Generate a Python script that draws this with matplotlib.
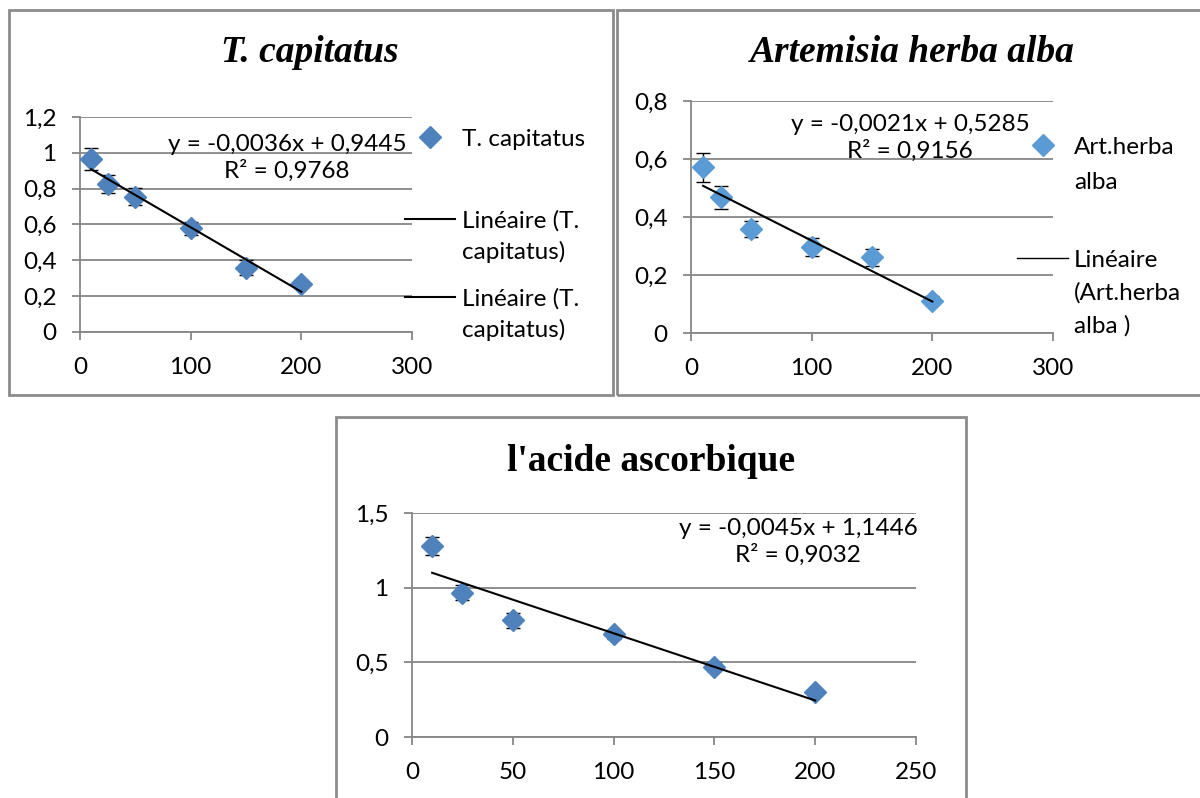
import numpy as np
import matplotlib
matplotlib.use('Agg')
import matplotlib.pyplot as plt
from matplotlib.lines import Line2D
from matplotlib.legend import Legend
from matplotlib.patches import Rectangle
from matplotlib.ticker import FuncFormatter, MultipleLocator

plt.rcParams['font.family'] = ['Lato', 'DejaVu Sans']

# concentrations (x) shared by the three panels
conc = [10, 25, 50, 100, 150, 200]

# T. capitatus
tc_y = [0.965, 0.825, 0.755, 0.578, 0.360, 0.270]
tc_err = [0.06, 0.05, 0.048, 0.035, 0.04, 0.02]
tc_fit = (-0.0036, 0.9445)
tc_r2 = 0.9768

# Artemisia herba alba
ah_y = [0.571, 0.468, 0.359, 0.296, 0.261, 0.112]
ah_err = [0.05, 0.04, 0.028, 0.03, 0.03, 0.015]
ah_fit = (-0.0021, 0.5285)
ah_r2 = 0.9156

# l'acide ascorbique
aa_y = [1.282, 0.966, 0.783, 0.688, 0.472, 0.298]
aa_err = [0.06, 0.05, 0.05, 0.03, 0.03, 0.02]
aa_fit = (-0.0045, 1.1446)
aa_r2 = 0.9032

W, H = 1200, 798
BLUE = '#4F81BD'
LIGHT_BLUE = '#5B9BD5'
GRAY = '#868686'
FS = 17.5

fig = plt.figure(figsize=(W / 100, H / 100), dpi=100)


def px(x, y):
    return x / W, 1 - y / H


def make_axes(left, top, right, bottom):
    ax = fig.add_axes([left / W, 1 - bottom / H, (right - left) / W, (bottom - top) / H])
    return ax


def fmt(v, pos):
    return ('%g' % round(v, 3)).replace('.', ',')


def style(ax, xmax, xstep, ymax, ystep):
    ax.set_xlim(0, xmax)
    ax.set_ylim(0, ymax)
    ax.xaxis.set_major_locator(MultipleLocator(xstep))
    ax.yaxis.set_major_locator(MultipleLocator(ystep))
    ax.xaxis.set_major_formatter(FuncFormatter(fmt))
    ax.yaxis.set_major_formatter(FuncFormatter(fmt))
    for s in ['top', 'right']:
        ax.spines[s].set_visible(False)
    for s in ['left', 'bottom']:
        ax.spines[s].set_color(GRAY)
        ax.spines[s].set_linewidth(1.3)
    ax.grid(axis='y', color=GRAY, linewidth=1.3)
    ax.set_axisbelow(True)
    ax.tick_params(length=6, width=1.3, color=GRAY, labelsize=FS)
    ax.tick_params(axis='x', pad=12)
    ax.tick_params(axis='y', pad=11)
    ax.set_facecolor('none')


def plot_series(ax, y, err, fit, color):
    x = np.array(conc)
    ax.errorbar(x, y, yerr=err, fmt='none', ecolor='black', elinewidth=1,
                capsize=5, capthick=1, zorder=3)
    ax.plot(x, y, linestyle='none', marker='D', markersize=11,
            color=color, zorder=4, clip_on=False)
    xf = np.array([conc[0], conc[-1]])
    ax.plot(xf, fit[0] * xf + fit[1], color='black', linewidth=1.5, zorder=5)


def eq_text(cx, cy, fit, r2):
    s = 'y = %sx + %s\nR² = %s' % (('%.4f' % fit[0]).replace('.', ','),
                                  ('%.4f' % fit[1]).replace('.', ','),
                                  ('%.4f' % r2).replace('.', ','))
    fig.text(*px(cx, cy), s, ha='center', va='center', fontsize=FS,
             linespacing=1.3, multialignment='center')


def legend_lines(ax, handle, lines, x, ys, hlen, pad):
    blank = Line2D([], [], color='none')
    for i, (t, y) in enumerate(zip(lines, ys)):
        leg = Legend(ax, [handle if i == 0 else blank], [t],
                     loc='center left', bbox_to_anchor=px(x, y),
                     bbox_transform=fig.transFigure, frameon=False,
                     borderpad=0, borderaxespad=0, handlelength=hlen,
                     handletextpad=pad, fontsize=FS)
        ax.add_artist(leg)


# panel frames
for (l, t, r, b) in [(9, 10, 613, 395), (617, 10, 1212, 395), (336, 417, 966, 812)]:
    fig.patches.append(Rectangle(px(l, b), (r - l) / W, (b - t) / H,
                                 transform=fig.transFigure, fill=False,
                                 edgecolor='#8c8c8c', linewidth=2))

# T. capitatus
ax1 = make_axes(80, 117, 412, 332)
style(ax1, 300, 100, 1.2, 0.2)
plot_series(ax1, tc_y, tc_err, tc_fit, BLUE)
fig.text(*px(310, 53), 'T. capitatus', ha='center', va='center', fontsize=27,
         family='Liberation Serif', weight='bold', style='italic')
eq_text(287, 158, tc_fit, tc_r2)
mk1 = Line2D([], [], linestyle='none', marker='D', markersize=11, color=BLUE)
ln = Line2D([], [], color='black', linewidth=1.5)
legend_lines(ax1, mk1, ['T. capitatus'], 405, [139], 2.05, 0.3)
legend_lines(ax1, ln, ['Linéaire (T.', 'capitatus)'], 405, [221, 252], 2.05, 0.3)
legend_lines(ax1, ln, ['Linéaire (T.', 'capitatus)'], 405, [299, 330], 2.05, 0.3)

# Artemisia herba alba
ax2 = make_axes(691, 101, 1053, 333)
style(ax2, 300, 100, 0.8, 0.2)
plot_series(ax2, ah_y, ah_err, ah_fit, LIGHT_BLUE)
fig.text(*px(912, 53), 'Artemisia herba alba', ha='center', va='center', fontsize=27,
         family='Liberation Serif', weight='bold', style='italic')
eq_text(910, 138, ah_fit, ah_r2)
mk2 = Line2D([], [], linestyle='none', marker='D', markersize=11, color=LIGHT_BLUE)
ln2 = Line2D([], [], color='black', linewidth=1)
legend_lines(ax2, mk2, ['Art.herba', 'alba'], 1017, [147, 182], 2.1, 0.25)
legend_lines(ax2, ln2, ['Linéaire', '(Art.herba', 'alba )'], 1017, [260, 293, 326], 2.1, 0.25)

# l'acide ascorbique
ax3 = make_axes(412, 513, 916, 737)
style(ax3, 250, 50, 1.5, 0.5)
plot_series(ax3, aa_y, aa_err, aa_fit, BLUE)
fig.text(*px(651, 461), "l'acide ascorbique", ha='center', va='center', fontsize=27,
         family='Liberation Serif', weight='bold')
eq_text(798, 542, aa_fit, aa_r2)

fig.savefig('out.png', dpi=100)
